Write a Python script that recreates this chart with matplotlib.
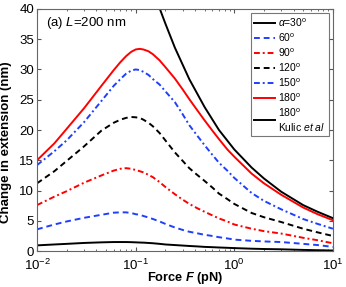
import matplotlib
matplotlib.use("Agg")
import matplotlib.pyplot as plt
from matplotlib.ticker import LogLocator, NullFormatter, MultipleLocator

plt.rcParams['font.family'] = ['Liberation Sans', 'DejaVu Sans']
plt.rcParams['mathtext.fontset'] = 'custom'
plt.rcParams['mathtext.rm'] = 'Liberation Sans'
plt.rcParams['mathtext.it'] = 'Liberation Sans:italic'
plt.rcParams['mathtext.bf'] = 'Liberation Sans:bold'
plt.rcParams['mathtext.bfit'] = 'Liberation Sans:bold:italic'

force = [0.01, 0.015, 0.02, 0.03, 0.045, 0.06, 0.07, 0.08, 0.09, 0.1, 0.11, 0.12,
         0.135, 0.15, 0.175, 0.2, 0.25, 0.3, 0.35, 0.42, 0.5, 0.6, 0.7, 0.85,
         1.0, 1.5, 2, 3, 5, 7, 10]
ext_30 = [0.95, 1.1, 1.2, 1.35, 1.45, 1.5, 1.5, 1.5, 1.48, 1.45, 1.42, 1.4,
          1.35, 1.3, 1.2, 1.1, 1.0, 0.92, 0.85, 0.78, 0.7, 0.65, 0.6, 0.55,
          0.5, 0.4, 0.35, 0.3, 0.2, 0.15, 0.1]
ext_60 = [3.6, 4.4, 4.9, 5.5, 6.0, 6.35, 6.4, 6.4, 6.3, 6.1, 6.0, 5.8,
          5.55, 5.3, 4.9, 4.5, 3.9, 3.5, 3.2, 2.95, 2.7, 2.5, 2.3, 2.1,
          1.9, 1.7, 1.6, 1.5, 1.2, 1.0, 0.7]
ext_90 = [7.6, 9.0, 9.9, 11.3, 12.5, 13.3, 13.6, 13.7, 13.6, 13.4, 13.2, 13.0,
          12.6, 12.2, 11.4, 10.6, 9.4, 8.5, 7.8, 7.1, 6.5, 5.9, 5.4, 4.9,
          4.4, 3.7, 3.3, 2.9, 2.2, 1.8, 1.3]
ext_120 = [11.2, 13.2, 14.9, 17.3, 19.9, 21.2, 21.7, 22.0, 22.15, 22.1, 22.0, 21.7,
           21.2, 20.6, 19.5, 18.3, 16.3, 14.9, 13.7, 12.6, 11.6, 10.5, 9.5, 8.6,
           7.8, 6.3, 5.6, 4.8, 3.7, 3.1, 2.5]
ext_150 = [14.2, 16.5, 18.3, 21.3, 24.8, 27.3, 28.4, 29.3, 29.8, 30.0, 29.9, 29.6,
           29.1, 28.4, 27.5, 26.4, 24.6, 22.6, 20.8, 19.1, 17.5, 15.9, 14.6, 13.3,
           12.1, 9.6, 8.3, 6.9, 5.3, 4.5, 3.7]
ext_180 = [15.0, 17.8, 20.2, 23.6, 27.3, 29.9, 31.2, 32.2, 32.9, 33.3, 33.4, 33.3,
           33.0, 32.5, 31.5, 30.4, 28.5, 26.7, 25.1, 23.3, 21.6, 19.9, 18.5, 16.8,
           15.6, 12.8, 11.2, 9.3, 7.2, 6.1, 5.1]
force_kulic = [0.15, 0.176, 0.2, 0.25, 0.35, 0.5, 0.7, 1.0, 1.5, 2, 3, 5, 7, 10]
ext_kulic = [43.4, 40.0, 37.6, 33.6, 28.4, 23.8, 20.0, 16.8, 13.8, 12.0, 9.8, 7.6, 6.5, 5.45]

labels = [r'$\alpha$=30$^{\rm o}$', r'60$^{\rm o}$', r'90$^{\rm o}$', r'120$^{\rm o}$',
          r'150$^{\rm o}$', r'180$^{\rm o}$', '180$^{\\rm o}$\nKulic $et$ $al$']

fig = plt.figure(figsize=(3.46, 2.87), dpi=100)
ax = fig.add_axes([0.107, 0.125, 0.855, 0.844])

lw = 1.4
blue = '#1f3fff'
ax.plot(force, ext_30, color='black', ls='-', lw=lw, label=labels[0])
ax.plot(force, ext_60, color=blue, ls=(0, (3, 2)), lw=lw, label=labels[1])
ax.plot(force, ext_90, color='red', ls=(0, (3, 1.5, 1, 1.5)), lw=lw, label=labels[2])
ax.plot(force, ext_120, color='black', ls=(0, (3, 2)), lw=lw, label=labels[3])
ax.plot(force, ext_150, color=blue, ls=(0, (3, 1.5, 1, 1.5)), lw=lw, label=labels[4])
ax.plot(force, ext_180, color='red', ls='-', lw=lw, label=labels[5])
ax.plot(force_kulic, ext_kulic, color='black', ls='-', lw=lw, label=labels[6])

ax.set_xscale('log')
ax.set_xlim(1e-2, 1e1)
ax.set_ylim(0, 40)
ax.yaxis.set_major_locator(MultipleLocator(5))
ax.xaxis.set_major_locator(LogLocator(base=10, numticks=10))
ax.xaxis.set_minor_locator(LogLocator(base=10, subs=range(2, 10), numticks=20))
ax.xaxis.set_minor_formatter(NullFormatter())
ax.tick_params(which='both', direction='in', top=True, right=True, labelsize=9.5,
               color='#555555')
ax.tick_params(axis='y', pad=2)
ax.tick_params(axis='x', pad=4.5)
ax.tick_params(which='major', length=3)
ax.tick_params(which='minor', length=1.6)
for s in ax.spines.values():
    s.set_color('#666666')
    s.set_linewidth(0.8)

ax.set_xlabel(r'Force $\mathbfit{F}$ (pN)', fontsize=9.2, fontweight='bold', labelpad=-1.5)
ax.set_ylabel('Change in extension (nm)', fontsize=9.5, fontweight='bold')
ax.yaxis.set_label_coords(-0.085, 0.45)
ax.text(0.03, 0.94, r'(a) $L$=200 nm', transform=ax.transAxes, fontsize=9.5, va='center')

leg = ax.legend(loc='upper right', fontsize=7.5, handlelength=2.0, handletextpad=0.3,
                labelspacing=0.25, borderpad=0.3, frameon=True, fancybox=False,
                borderaxespad=0.4)
leg.get_frame().set_edgecolor('#555555')
leg.get_frame().set_linewidth(0.8)

fig.savefig('out.png', dpi=100)
